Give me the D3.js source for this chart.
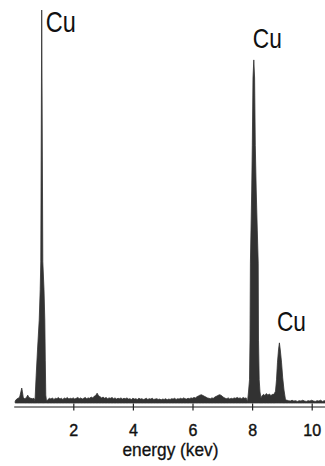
<!DOCTYPE html>
<html>
<head>
<meta charset="utf-8">
<script src="https://cdn.jsdelivr.net/npm/d3@7"></script>
<style>
  html, body { margin: 0; padding: 0; background: #fff; }
  svg { display: block; }
  text { font-family: "Liberation Sans", Arial, sans-serif; fill: #111; }
</style>
</head>
<body>
<svg id="chart" width="325" height="466"></svg>
<script>
// EDS spectrum: energy (keV) and counts (arbitrary units, Cu L peak = 1000)
const energy = [
  0.05, 0.10, 0.15, 0.20, 0.24, 0.27, 0.29, 0.32, 0.37, 0.42, 0.47, 0.51, 0.57, 0.63, 0.68,
  0.715, 0.755, 0.799, 0.856, 0.889, 0.909, 0.940, 0.977, 1.017, 1.044, 1.060, 1.077, 1.101,
  1.15, 1.20, 1.25, 1.30, 1.35, 1.40, 1.45, 1.50, 1.55, 1.60, 1.65, 1.70, 1.75, 1.80, 1.85,
  1.90, 1.95, 2.00, 2.05, 2.10, 2.15, 2.20, 2.25, 2.30, 2.35, 2.40, 2.45, 2.50, 2.55, 2.60,
  2.65, 2.70, 2.75, 2.80, 2.85, 2.90, 2.95, 3.00, 3.05, 3.10, 3.15, 3.20, 3.25, 3.30, 3.35,
  3.40, 3.45, 3.50, 3.55, 3.60, 3.65, 3.70, 3.75, 3.80, 3.85, 3.90, 3.95, 4.00, 4.05, 4.10,
  4.15, 4.20, 4.25, 4.30, 4.35, 4.40, 4.45, 4.50, 4.55, 4.60, 4.65, 4.70, 4.75, 4.80, 4.85,
  4.90, 4.95, 5.00, 5.05, 5.10, 5.15, 5.20, 5.25, 5.30, 5.35, 5.40, 5.45, 5.50, 5.55, 5.60,
  5.65, 5.70, 5.75, 5.80, 5.85, 5.90, 5.95, 6.00, 6.05, 6.10, 6.15, 6.20, 6.25, 6.30, 6.35,
  6.40, 6.45, 6.50, 6.55, 6.60, 6.65, 6.70, 6.75, 6.80, 6.85, 6.90, 6.95, 7.00, 7.05, 7.10,
  7.15, 7.20, 7.25, 7.30, 7.35, 7.40, 7.45, 7.50, 7.55, 7.60, 7.65, 7.70, 7.75, 7.80,
  7.846, 7.879, 7.913, 7.930, 7.943, 7.963, 7.987, 8.007, 8.030, 8.057, 8.084, 8.107, 8.138,
  8.174, 8.205, 8.215, 8.238, 8.265, 8.299,
  8.33, 8.38, 8.43, 8.48, 8.53, 8.58, 8.63, 8.69,
  8.735, 8.785, 8.819, 8.852, 8.886, 8.916, 8.946, 8.987, 9.027, 9.070, 9.121,
  9.17, 9.22, 9.28, 9.34, 9.40, 9.46, 9.52, 9.58, 9.64, 9.70, 9.76, 9.82, 9.88, 9.94,
  10.00, 10.06, 10.12, 10.18, 10.24, 10.30, 10.36, 10.42, 10.47
];
const counts = [
  5, 10, 12, 15, 28, 38, 30, 14, 11, 13, 20, 14, 12, 11, 12,
  6, 71, 135, 211, 288, 359, 1000, 359, 288, 211, 109, 20, 5,
  9, 12, 10, 13, 9, 12, 11, 14, 10, 12, 9, 13, 11, 14, 10,
  12, 11, 13, 10, 12, 14, 11, 13, 10, 12, 14, 11, 13, 12, 15,
  13, 17, 19, 25, 18, 16, 13, 15, 12, 14, 11, 13, 12, 14, 11,
  13, 10, 12, 11, 13, 10, 12, 11, 13, 10, 11, 9, 12, 10, 11,
  9, 12, 10, 11, 9, 10, 12, 9, 11, 10, 12, 9, 10, 11, 9,
  10, 8, 10, 9, 11, 8, 10, 9, 11, 10, 12, 9, 11, 10, 12,
  10, 13, 11, 10, 12, 11, 13, 12, 14, 13, 16, 18, 20, 21, 19,
  17, 15, 13, 12, 11, 13, 12, 15, 17, 19, 21, 20, 17, 14, 12,
  11, 13, 10, 12, 11, 13, 12, 14, 12, 13, 11, 14, 12, 13,
  3, 28, 59, 160, 356, 440, 542, 656, 827, 873, 827, 656, 542,
  440, 356, 160, 59, 28, 12,
  18, 22, 19, 24, 20, 23, 19, 22,
  22, 30, 59, 104, 135, 153, 135, 104, 64, 33, 8,
  7, 6, 5, 7, 5, 6, 4, 6, 5, 7, 5, 4, 6, 5,
  7, 5, 4, 6, 5, 7, 4, 6, 5
];

// Peak labels: line energy and the count at the top of the peak
const peakNames = ["Cu", "Cu", "Cu"];
const peakEnergy = [0.940, 8.057, 8.916];
const peakCounts = [1000, 873, 153];

const tickValues = [2, 4, 6, 8, 10];
const axisTitle = "energy (kev)";

const svg = d3.select("#chart");
const x = d3.scaleLinear().domain([0, 10.5]).range([13.7, 326.6]);
const y = d3.scaleLinear().domain([0, 1000]).range([403, 10]);

const data = energy.map((e, i) => [e, counts[i]]);

const area = d3.area()
  .x(d => x(d[0]))
  .y0(y(0))
  .y1(d => y(d[1]));

svg.append("path")
  .datum(data)
  .attr("d", area)
  .attr("fill", "#323232")
  .attr("stroke", "#323232")
  .attr("stroke-width", 0.8)
  .attr("stroke-linejoin", "miter");

// Energy axis, sitting just below the spectrum
const axis = svg.append("g")
  .attr("transform", "translate(0,406.5)")
  .call(d3.axisBottom(x).tickValues(tickValues).tickFormat(d3.format("d"))
    .tickSizeInner(4).tickSizeOuter(0).tickPadding(14));
axis.select(".domain").attr("stroke", "#666").attr("stroke-width", 1.7);
axis.selectAll(".tick line").attr("y1", -3).attr("stroke", "#222").attr("stroke-width", 1.2);
axis.selectAll(".tick text")
  .attr("font-size", 16)
  .attr("font-family", "Liberation Sans, Arial, sans-serif")
  .attr("fill", "#111")
  .attr("stroke", "#111")
  .attr("stroke-width", 0.4);

svg.append("text")
  .attr("x", 170.5)
  .attr("y", 456)
  .attr("text-anchor", "middle")
  .attr("font-size", 18.5)
  .attr("textLength", 96)
  .attr("lengthAdjust", "spacingAndGlyphs")
  .attr("stroke", "#111")
  .attr("stroke-width", 0.3)
  .text(axisTitle);

// Peak labels, placed from the peak position
const labelDx = [4, -1, -2.5];
const labelDy = [22, -12, -11.5];
const labelSize = [29, 28, 28];
const labelWidth = [30, 29, 29];
peakNames.forEach((name, i) => {
  svg.append("text")
    .attr("x", x(peakEnergy[i]) + labelDx[i])
    .attr("y", y(peakCounts[i]) + labelDy[i])
    .attr("font-size", labelSize[i])
    .attr("textLength", labelWidth[i])
    .attr("lengthAdjust", "spacingAndGlyphs")
    .text(name);
});
</script>
</body>
</html>
